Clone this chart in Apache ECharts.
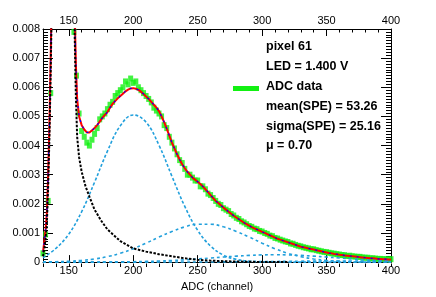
<!DOCTYPE html>
<html><head><meta charset="utf-8">
<script src="https://cdn.jsdelivr.net/npm/echarts@6/dist/echarts.min.js"></script>
<style>html,body{margin:0;padding:0;background:#fff}#c{width:436px;height:297px}</style>
</head><body><div id="c"></div>
<script>
// ---- data ----
const dataX = [130,132,134,136,138,140,142,144,146,148,
150,152,154,156,158,160,162,164,166,168,
170,172,174,176,178,180,182,184,186,188,
190,192,194,196,198,200,202,204,206,208,
210,212,214,216,218,220,222,224,226,228,
230,232,234,236,238,240,242,244,246,248,
250,252,254,256,258,260,262,264,266,268,
270,272,274,276,278,280,282,284,286,288,
290,292,294,296,298,300,302,304,306,308,
310,312,314,316,318,320,322,324,326,328,
330,332,334,336,338,340,342,344,346,348,
350,352,354,356,358,360,362,364,366,368,
370,372,374,376,378,380,382,384,386,388,
390,392,394,396,398,400];
const dataY = [0.0003,0.00095,0.0021,0.0058,0.0125,0.0215,0.031,0.038,0.0405,0.0345,
0.0255,0.0165,0.0079,0.0064,0.0051,0.0045,0.0043,0.0041,0.0040,0.0042,
0.0044,0.0046,0.0049,0.0050,0.0051,0.00525,0.0054,0.0055,0.0057,0.0058,
0.0059,0.0060,0.0062,0.0061,0.0063,0.00615,0.0062,0.0060,0.0059,0.0058,
0.0057,0.0056,0.00548,0.0053,0.0052,0.0051,0.0050,0.0047,0.0046,0.0043,
0.0041,0.0039,0.0037,0.0035,0.0034,0.0032,0.0030,0.0030,0.0029,0.0028,
0.0028,0.0026,0.0026,0.0025,0.00235,0.0023,0.0022,0.0021,0.0020,0.00196,
0.00185,0.0018,0.00175,0.00165,0.0016,0.00152,0.00148,0.0014,0.00136,0.0013,
0.00124,0.00121,0.00115,0.00113,0.00107,0.00105,0.001,0.00097,0.00091,0.00089,
0.00083,0.00081,0.00077,0.00074,0.00071,0.00069,0.00064,0.00063,0.00059,0.00056,
0.00054,0.00051,0.00049,0.00047,0.00044,0.00044,0.00041,0.00039,0.00037,0.00035,
0.00034,0.00032,0.0003,0.00029,0.00027,0.00026,0.00024,0.00024,0.00021,0.00022,
0.0002,0.00019,0.00018,0.00018,0.00016,0.00015,0.00015,0.00013,0.00013,0.00012,
0.00011,0.00011,0.0001,0.0001,0.00009,0.0001];

const fitX = [130,131,132,133,134,135,136,137,138,140,142,144,145.5,147,149,151,153,154.5,155.5,156.5,158,
160,162,164,166,168,170,172,174,176,178,
180,182,184,186,188,190,192,194,196,198,
200,202,204,206,208,210,212,214,216,218,
220,222,224,226,228,230,232,234,236,238,
240,242,244,246,248,250,252,254,256,258,
260,262,264,266,268,270,272,274,276,278,
280,282,284,286,288,290,292,294,296,298,
300,302,304,306,308,310,312,314,316,318,
320,322,324,326,328,330,332,334,336,338,
340,342,344,346,348,350,352,354,356,358,
360,362,364,366,368,370,372,374,376,378,
380,382,384,386,388,390,392,394,396,398,400];
const fitY = [0.00035,0.0007,0.0011,0.0017,0.003,0.0048,0.0071,0.0099,0.0135,0.0225,0.031,0.0385,0.0408,0.038,0.030,0.021,0.013,0.0088,0.0068,0.0056,0.0050,
0.0047,0.00455,0.00445,0.00445,0.00452,0.0046,0.0047,0.00482,0.00495,0.00505,
0.00515,0.0053,0.00543,0.00553,0.00562,0.0057,0.00578,0.00586,0.00592,0.00596,
0.00597,0.00595,0.00591,0.00585,0.00577,0.00568,0.0056,0.0055,0.0054,0.0053,
0.00518,0.005,0.0048,0.00458,0.00434,0.0041,0.0039,0.0037,0.00352,0.00336,
0.00322,0.0031,0.003,0.0029,0.00283,0.00276,0.00268,0.0026,0.0025,0.0024,
0.0023,0.0022,0.0021,0.00203,0.00195,0.00187,0.0018,0.00173,0.00166,0.00159,
0.00153,0.00147,0.00141,0.00135,0.0013,0.00125,0.0012,0.00116,0.00112,0.00108,
0.00104,0.001,0.00096,0.00092,0.00088,0.00084,0.0008,0.00077,0.00074,0.00071,
0.00068,0.00065,0.00062,0.00059,0.00056,0.00053,0.00051,0.00049,0.00047,0.00045,
0.00043,0.00041,0.00039,0.00037,0.00035,0.00033,0.00031,0.0003,0.00028,0.00027,
0.00025,0.00024,0.00023,0.00022,0.00021,0.0002,0.00019,0.00018,0.00017,0.00016,
0.00015,0.00014,0.00013,0.00013,0.00012,0.00011,0.00011,0.0001,0.0001,0.00009,0.00009];

const pedX = [130,131,132,133,134,135,136,137,138,140,142,144,145.5,147,149,151,153,154.5,155.5,156.5,158,160,163,166,170,175,180,190,200,210,220,230,240,250,260,270,280,290,300,310,320];
const pedY = [0.0002,0.00045,0.0008,0.0013,0.0026,0.0043,0.0066,0.0094,0.013,0.022,0.0305,0.038,0.0402,0.0375,0.0295,0.0205,0.0123,0.0080,0.0057,0.0043,0.0036,0.0031,0.0026,0.00225,0.0018,0.00143,0.00112,0.00072,0.00047,0.00036,0.00027,0.0002,0.00013,0.00008,0.00005,0.00003,0.00002,0.00001,0.000005,0.000002,0];

const compX = [130,140,150,160,170,180,190,200,210,220,230,240,250,260,270,280,290,300,310,320,330,340,350,360,370,380,390,400];
const pe1Y = [0.00015,0.00047,0.00096,0.00173,0.00274,0.00381,0.00468,0.00505,0.0048,0.00401,0.00295,0.00191,0.00109,0.00055,0.00024,0.000094,0.000032,0.00001,0.000003,0.000001,0,0,0,0,0,0,0,0];
const pe2Y = [0.000006,0.000013,0.000029,0.000058,0.000107,0.000187,0.000303,0.00046,0.00065,0.00086,0.00105,0.00121,0.0013,0.0013,0.00121,0.00105,0.00086,0.00065,0.00046,0.000303,0.000187,0.000107,0.000058,0.000029,0.000013,0.000006,0.0000025,0.000001];
const pe3Y = [0.0000001,0.0000003,0.0000006,0.0000013,0.0000024,0.0000046,0.0000083,0.0000143,0.0000235,0.000037,0.0000553,0.000079,0.000107,0.00014,0.000173,0.000204,0.00023,0.000247,0.000253,0.000247,0.00023,0.000204,0.000173,0.00014,0.000107,0.000079,0.0000553,0.000037];
const pe4Y = [0,0,0,0.0000001,0.0000001,0.0000002,0.0000002,0.0000003,0.0000006,0.0000009,0.0000014,0.0000023,0.0000035,0.0000053,0.0000076,0.0000105,0.000014,0.000018,0.0000224,0.0000268,0.000031,0.0000346,0.0000372,0.0000385,0.0000385,0.0000372,0.0000346,0.000031];

const xMajorTicks = [150,200,250,300,350,400];
const infoLines = ['pixel 61','LED = 1.400 V','ADC data','mean(SPE) = 53.26','sigma(SPE) = 25.16','\u03bc = 0.70'];

// ---- chart ----
const zip = (xs, ys) => xs.map((x, i) => [x, ys[i]]);
const FONT = '"Liberation Sans", Arial, Helvetica, sans-serif';
const BLK = '#000';
const LB = '#22a0dc';
const GREEN = '#12f012';
const g = {left: 43, right: 45, top: 29, bottom: 30};

function majorX(pos, withName) {
  const a = {
    gridIndex: 0, type: 'value', min: 130, max: 400, position: pos,
    axisLine: {show: true, onZero: false, lineStyle: {color: BLK, width: 1}},
    axisTick: {show: true, inside: true, length: 7, customValues: xMajorTicks, lineStyle: {color: BLK, width: 1}},
    axisLabel: {show: true, customValues: xMajorTicks, fontSize: 11, color: BLK, margin: 3, fontFamily: FONT},
    splitLine: {show: false}
  };
  if (withName) {
    a.name = 'ADC (channel)'; a.nameLocation = 'middle'; a.nameGap = 13;
    a.nameTextStyle = {fontSize: 11, color: BLK, fontFamily: FONT};
  }
  return a;
}
function minorX(pos) {
  return {
    gridIndex: 1, type: 'value', min: 130, max: 400, interval: 10, position: pos,
    axisLine: {show: false}, axisLabel: {show: false}, splitLine: {show: false},
    axisTick: {show: true, inside: true, length: 3.5, lineStyle: {color: BLK, width: 1}}
  };
}
function yAx(pos, labels) {
  return {
    gridIndex: 0, type: 'value', min: 0, max: 0.008, interval: 0.001, position: pos,
    axisLine: {show: true, onZero: false, lineStyle: {color: BLK, width: 1}},
    axisTick: {show: true, inside: true, length: 10, lineStyle: {color: BLK, width: 1}},
    minorTick: {show: true, splitNumber: 10, length: 5, lineStyle: {color: BLK, width: 1}},
    axisLabel: {show: labels, fontSize: 11, color: BLK, margin: 3, fontFamily: FONT,
      formatter: v => (v === 0 ? '0' : v.toFixed(3))},
    splitLine: {show: false}, minorSplitLine: {show: false}
  };
}
function comp(ys, dash) {
  return {type: 'line', xAxisIndex: 0, yAxisIndex: 0, data: zip(compX, ys), smooth: 0.4,
    showSymbol: false, symbol: 'none', clip: true, z: 3,
    lineStyle: {color: LB, width: 1.6, type: dash}};
}

const graphics = [];
const ys = [48, 68, 88, 108, 128, 147.5];
infoLines.forEach((t, i) => {
  graphics.push({type: 'text', left: 266, top: ys[i] - 8, z: 100,
    style: {text: t, fill: BLK, font: 'bold 12.5px ' + FONT}});
});
graphics.push({type: 'rect', shape: {x: 233, y: 86, width: 26, height: 5}, z: 100, style: {fill: GREEN}});

const option = {
  animation: false,
  backgroundColor: '#fff',
  grid: [Object.assign({}, g), Object.assign({}, g)],
  xAxis: [majorX('bottom', true), majorX('top', false), minorX('bottom'), minorX('top')],
  yAxis: [yAx('left', true), yAx('right', false),
    {gridIndex: 1, type: 'value', min: 0, max: 0.008, show: false}],
  graphic: graphics,
  series: [
    {type: 'scatter', xAxisIndex: 0, yAxisIndex: 0, data: zip(dataX, dataY), symbol: 'rect',
      symbolSize: [5, 6], clip: true, z: 2, itemStyle: {color: GREEN}},
    comp(pe1Y, [3, 2]),
    comp(pe2Y, [3, 3]),
    comp(pe3Y, [3, 3]),
    comp(pe4Y, [3, 3]),
    {type: 'line', xAxisIndex: 0, yAxisIndex: 0, data: zip(fitX, fitY), showSymbol: false, symbol: 'none',
      clip: true, z: 4, lineStyle: {color: '#ff0000', width: 2}},
    {type: 'line', xAxisIndex: 0, yAxisIndex: 0, data: zip(fitX, fitY), showSymbol: false, symbol: 'none',
      clip: true, z: 5, lineStyle: {color: '#0000ff', width: 1.2, type: [2, 5]}},
    {type: 'line', xAxisIndex: 0, yAxisIndex: 0, data: zip(pedX, pedY), showSymbol: false, symbol: 'none',
      clip: true, z: 6, lineStyle: {color: BLK, width: 2, type: [2.5, 1.5]}}
  ]
};
const chart = echarts.init(document.getElementById('c'), null, {renderer: 'canvas'});
chart.setOption(option);
</script>
</body></html>
